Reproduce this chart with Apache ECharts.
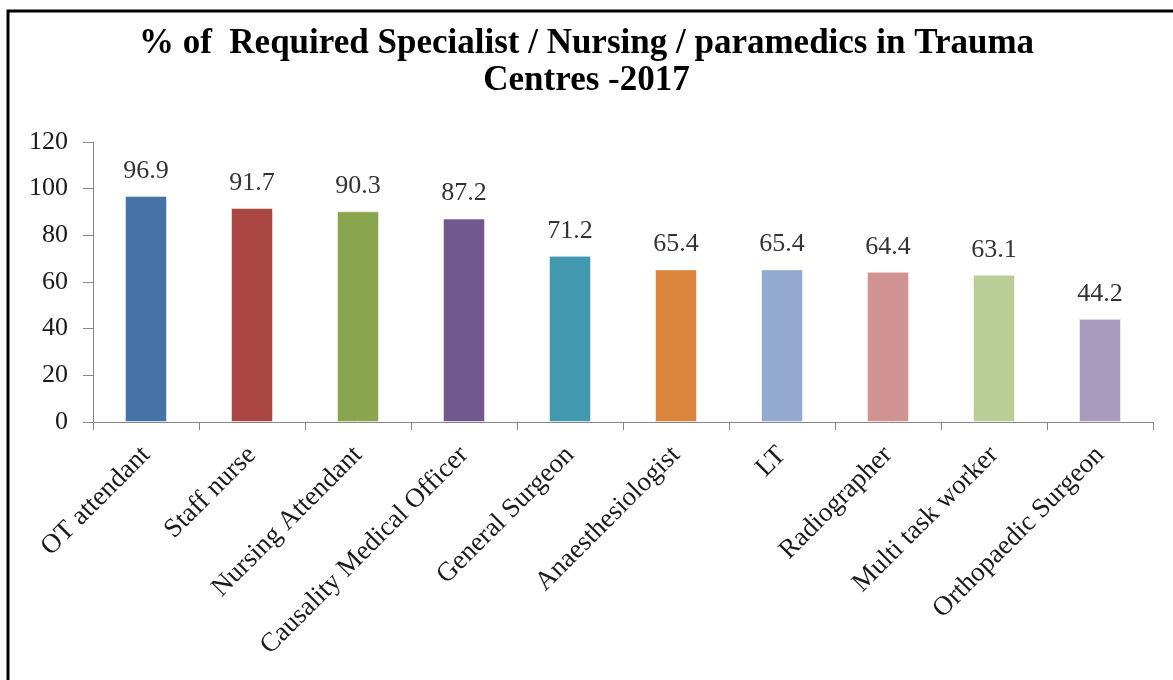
<!DOCTYPE html>
<html>
<head>
<meta charset="utf-8">
<title>Trauma Centres 2017</title>
<script src="https://cdn.jsdelivr.net/npm/echarts@6/dist/echarts.min.js"></script>
<style>
  html, body { margin: 0; padding: 0; background: #fff; }
  #main { width: 1173px; height: 680px; }
</style>
</head>
<body>
<div id="main"></div>
<script>
// categories and values
var categories = [
  "OT attendant",
  "Staff nurse",
  "Nursing Attendant",
  "Causality Medical Officer",
  "General Surgeon",
  "Anaesthesiologist",
  "LT",
  "Radiographer",
  "Multi task worker",
  "Orthopaedic Surgeon"
];
var percentValues = [96.9, 91.7, 90.3, 87.2, 71.2, 65.4, 65.4, 64.4, 63.1, 44.2];
var barColors = [
  "#4572A7", "#AA4643", "#89A54E", "#71588F", "#4198AF",
  "#DB843D", "#93A9CF", "#D19392", "#B9CD96", "#A99BBD"
];
var yTicks = { min: 0, max: 120, interval: 20 };

var serif = "'Liberation Serif', 'DejaVu Serif', serif";
var chart = echarts.init(document.getElementById("main"));

var option = {
  animation: false,
  title: {
    text: "% of  Required Specialist / Nursing / paramedics in Trauma\nCentres -2017",
    left: "center",
    top: 20,
    textStyle: {
      fontFamily: serif,
      fontWeight: "bold",
      fontSize: 35,
      lineHeight: 37,
      color: "#000"
    }
  },
  // frame of the original picture (left and top edges only visible)
  graphic: [
    {
      type: "polyline",
      shape: { points: [[8, 700], [8, 11], [1190, 11]] },
      style: { stroke: "#000", lineWidth: 3, fill: null }
    }
  ],
  grid: { left: 93, right: 20, top: 142, bottom: 258 },
  xAxis: {
    type: "category",
    data: categories,
    axisLine: { lineStyle: { color: "#868686", width: 1 } },
    axisTick: { show: true, length: 8, lineStyle: { color: "#868686" } },
    axisLabel: {
      rotate: 45,
      margin: 29,
      interval: 0,
      fontFamily: serif,
      fontSize: 27,
      color: "#1a1a1a"
    }
  },
  yAxis: {
    type: "value",
    min: yTicks.min,
    max: yTicks.max,
    interval: yTicks.interval,
    axisLine: { show: true, lineStyle: { color: "#868686", width: 1 } },
    axisTick: { show: true, length: 10, lineStyle: { color: "#868686" } },
    splitLine: { show: false },
    axisLabel: {
      margin: 25,
      fontFamily: serif,
      fontSize: 26,
      color: "#1a1a1a"
    }
  },
  series: [
    {
      type: "bar",
      barWidth: 42,
      data: percentValues.map(function (v, i) {
        return { value: v, itemStyle: { color: barColors[i] } };
      }),
      itemStyle: { borderColor: "rgba(255,255,255,0.5)", borderWidth: 1 },
      label: {
        show: true,
        position: "top",
        distance: 12,
        fontFamily: serif,
        fontSize: 26,
        color: "#333"
      }
    }
  ]
};
chart.setOption(option);
</script>
</body>
</html>
